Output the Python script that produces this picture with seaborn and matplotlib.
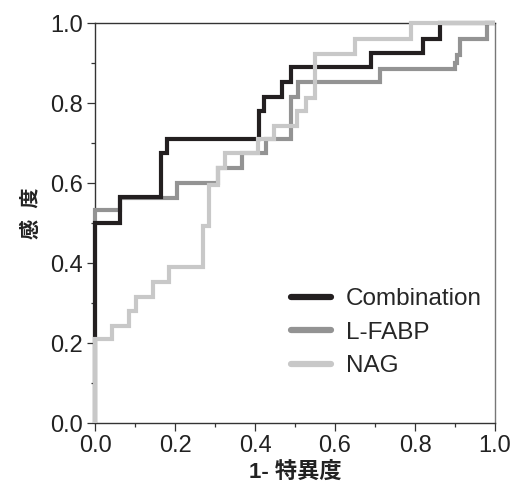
import pandas as pd
import matplotlib.pyplot as plt
import seaborn as sns

# ROC curve vertices (1 - specificity, sensitivity)
comb_fpr = [0, 0, 0.0625, 0.0625, 0.165, 0.165, 0.18, 0.18, 0.41, 0.41, 0.4225, 0.4225,
            0.467, 0.467, 0.489, 0.489, 0.69, 0.69, 0.82, 0.82, 0.8625, 0.8625, 1.0]
comb_tpr = [0, 0.5, 0.5, 0.567, 0.567, 0.675, 0.675, 0.71, 0.71, 0.78, 0.78, 0.817,
            0.817, 0.854, 0.854, 0.89, 0.89, 0.925, 0.925, 0.962, 0.962, 1.0, 1.0]

lfabp_fpr = [0, 0, 0.0625, 0.0625, 0.204, 0.204, 0.308, 0.308, 0.367, 0.367, 0.427, 0.427,
             0.489, 0.489, 0.508, 0.508, 0.7125, 0.7125, 0.9, 0.9, 0.906, 0.906, 0.9125,
             0.9125, 0.98, 0.98, 1.0]
lfabp_tpr = [0, 0.533, 0.533, 0.5625, 0.5625, 0.60, 0.60, 0.6375, 0.6375, 0.675, 0.675, 0.711,
             0.711, 0.817, 0.817, 0.854, 0.854, 0.885, 0.885, 0.90, 0.90, 0.92, 0.92,
             0.962, 0.962, 1.0, 1.0]

nag_fpr = [0, 0, 0.042, 0.042, 0.086, 0.086, 0.1025, 0.1025, 0.144, 0.144, 0.186, 0.186,
           0.269, 0.269, 0.286, 0.286, 0.308, 0.308, 0.325, 0.325, 0.408, 0.408, 0.448, 0.448,
           0.506, 0.506, 0.5275, 0.5275, 0.55, 0.55, 0.65, 0.65, 0.79, 0.79, 1.0]
nag_tpr = [0, 0.21, 0.21, 0.244, 0.244, 0.281, 0.281, 0.316, 0.316, 0.354, 0.354, 0.392,
           0.392, 0.493, 0.493, 0.596, 0.596, 0.6375, 0.6375, 0.675, 0.675, 0.711, 0.711, 0.743,
           0.743, 0.782, 0.782, 0.8125, 0.8125, 0.923, 0.923, 0.96, 0.96, 1.0, 1.0]

labels = ['Combination', 'L-FABP', 'NAG']
colors = {'Combination': '#231f20', 'L-FABP': '#939393', 'NAG': '#c8c8c8'}
zorders = {'L-FABP': 3, 'Combination': 4, 'NAG': 5}

curves = {
    'Combination': (comb_fpr, comb_tpr),
    'L-FABP': (lfabp_fpr, lfabp_tpr),
    'NAG': (nag_fpr, nag_tpr),
}

sns.set_theme(style='ticks')
plt.rcParams['font.family'] = ['Liberation Sans', 'Noto Sans CJK JP']

fig = plt.figure(figsize=(5.12, 4.92), dpi=100)
ax = fig.add_axes([95 / 512, 1 - 423.3 / 492, 400 / 512, 400 / 492])

handles = {}
for name in ['L-FABP', 'Combination', 'NAG']:
    fpr, tpr = curves[name]
    df = pd.DataFrame({'fpr': fpr, 'tpr': tpr})
    sns.lineplot(data=df, x='fpr', y='tpr', sort=False, estimator=None,
                 color=colors[name], linewidth=3.0, ax=ax, zorder=zorders[name])
    line = ax.lines[-1]
    line.set_clip_on(False)
    line.set_solid_joinstyle('miter')
    line.set_solid_capstyle('butt')
    handles[name] = plt.Line2D([], [], color=colors[name], linewidth=4.5)

ax.set_xlim(0, 1)
ax.set_ylim(0, 1)
ax.set_xticks([0, 0.2, 0.4, 0.6, 0.8, 1.0])
ax.set_yticks([0, 0.2, 0.4, 0.6, 0.8, 1.0])
ax.set_xticks([0.1, 0.3, 0.5, 0.7, 0.9], minor=True)
ax.set_yticks([0.1, 0.3, 0.5, 0.7, 0.9], minor=True)
ax.xaxis.set_major_formatter(plt.FormatStrFormatter('%.1f'))
ax.yaxis.set_major_formatter(plt.FormatStrFormatter('%.1f'))
ax.tick_params(which='major', direction='out', length=5.5, width=0.9, labelsize=17,
               color='#333333', labelcolor='#222222', pad=3)
ax.tick_params(which='minor', direction='out', length=3, width=0.9, color='#333333')

for side in ['top', 'right', 'left', 'bottom']:
    ax.spines[side].set_visible(True)
    ax.spines[side].set_linewidth(1.0)
    ax.spines[side].set_color('#333333')
ax.spines['right'].set_color('#777777')

ax.set_xlabel('1- 特異度', fontsize=16, fontweight='bold', color='#222222', labelpad=3)
ax.set_ylabel('感  度', fontsize=14.5, fontweight='bold', color='#222222')
ax.yaxis.set_label_coords(-0.135, 0.526)

ax.legend([handles[n] for n in labels], labels, loc='lower left',
          bbox_to_anchor=(0.46, 0.085), frameon=False, fontsize=17.5,
          handlelength=1.65, handletextpad=0.6, labelspacing=0.47, borderpad=0)

fig.savefig('out.png', dpi=100)
